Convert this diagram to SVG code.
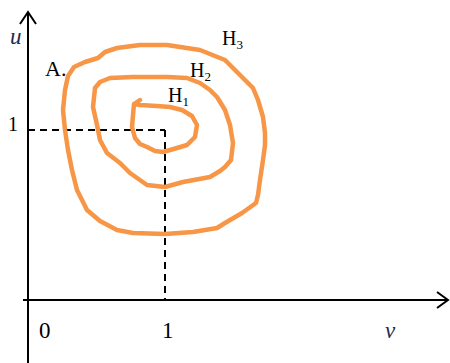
<svg xmlns="http://www.w3.org/2000/svg" width="450" height="363" viewBox="0 0 450 363">
<style>
.ax{stroke:#000;stroke-width:2;fill:none}
.dash{stroke:#000;stroke-width:2;fill:none;stroke-dasharray:7 5}
.loop{stroke:#F79646;stroke-width:4.5;fill:none;stroke-linejoin:round;stroke-linecap:round}
.t{font-family:"Liberation Serif","Times New Roman",serif;fill:#000}
.it{font-family:"Liberation Serif","Times New Roman",serif;font-style:italic;fill:#1F2A50}
</style>
<rect width="450" height="363" fill="#fff"/>
<g id="connectors">
<line class="ax" x1="28" y1="363" x2="28" y2="12"/>
<polyline class="ax" points="20,24 28,12 36,24"/>
<line class="ax" x1="23" y1="300" x2="447" y2="300"/>
<polyline class="ax" points="437,292 448,300 437,308"/>
<line class="dash" x1="28" y1="130" x2="165" y2="130"/>
<line class="dash" x1="165" y1="130" x2="165" y2="300"/>
</g>
<g id="H3">
<path class="loop" d="M68,76 L74,67 L85,62 L98,58 L105,52 L117,48 L140,45 L167,45 L200,50 L225,60 L238,73 L253,88 L258,100 L263,117 L265,133 L265,145 L263,160 L260,180 L258,195 L256,203 L242,213 L225,223 L217,228 L193,232 L165,234 L133,233 L117,230 L100,221 L87,210 L77,190 L72,170 L68,150 L65,130 L63,110 L65,90 Z"/>
<text class="t" x="222" y="45" font-size="20">H<tspan font-size="13" dy="4">3</tspan></text>
</g>
<g id="H2">
<path class="loop" d="M95,88 L100,82 L110,78 L133,77 L167,77 L187,78 L200,83 L210,90 L217,97 L225,110 L230,125 L233,143 L231,160 L225,167 L220,171 L210,177 L183,182 L165,187 L147,185 L130,173 L120,163 L107,153 L100,140 L97,125 L93,107 Z"/>
<text class="t" x="190" y="77" font-size="20">H<tspan font-size="13" dy="4">2</tspan></text>
</g>
<g id="H1">
<path class="loop" d="M140,100 L134,104 L133,115 L132,127 L135,138 L140,144 L147,147 L155,151 L163,152 L177,148 L187,145 L195,137 L197,125 L192,116 L182,110 L170,107 L157,106 L140,105 L134,104"/>
<text class="t" x="168" y="102" font-size="20">H<tspan font-size="13" dy="4">1</tspan></text>
</g>
<g id="A">
<text class="t" x="45" y="76" font-size="22">A.</text>
</g>
<g id="labels">
<text class="it" x="10" y="44" font-size="23">u</text>
<text class="it" x="385" y="338" font-size="23">v</text>
<text class="t" x="8" y="131" font-size="20">1</text>
<text class="t" x="39" y="338" font-size="23">0</text>
<text class="t" x="162" y="338" font-size="23">1</text>
</g>
</svg>
